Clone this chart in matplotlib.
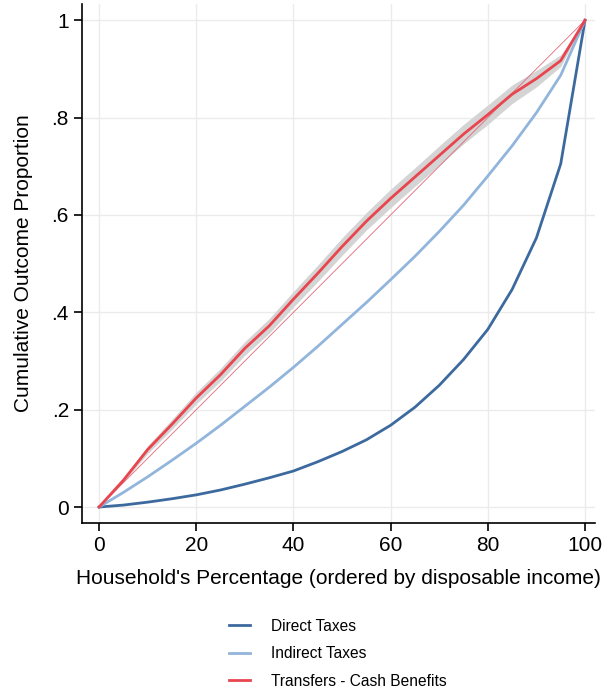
import numpy as np
import matplotlib; matplotlib.use("Agg")
import matplotlib.pyplot as plt

plt.rcParams.update({"font.family": ["Liberation Sans", "DejaVu Sans"], "font.size": 15})

# household percentile (ordered by disposable income)
pct = [0, 5, 10, 15, 20, 25, 30, 35, 40, 45, 50, 55, 60, 65, 70, 75, 80, 85, 90, 95, 100]
direct = [0, 0.004, 0.010, 0.017, 0.025, 0.035, 0.047, 0.060, 0.074, 0.093, 0.114,
          0.138, 0.168, 0.205, 0.250, 0.303, 0.365, 0.447, 0.553, 0.705, 1.0]
indirect = [0, 0.030, 0.062, 0.096, 0.131, 0.168, 0.207, 0.246, 0.287, 0.330, 0.375,
            0.420, 0.467, 0.515, 0.566, 0.620, 0.680, 0.742, 0.810, 0.887, 1.0]
transfers = [0, 0.055, 0.118, 0.170, 0.224, 0.272, 0.326, 0.372, 0.427, 0.480, 0.535,
             0.587, 0.634, 0.678, 0.722, 0.766, 0.806, 0.848, 0.880, 0.917, 1.0]
tr_halfwidth = [0, 0.004, 0.008, 0.010, 0.012, 0.013, 0.014, 0.015, 0.016, 0.017, 0.018,
                0.018, 0.019, 0.019, 0.020, 0.020, 0.020, 0.019, 0.017, 0.012, 0]

tr = np.array(transfers); hw = np.array(tr_halfwidth)

fig = plt.figure(figsize=(6.08, 6.91), dpi=100)
ax = fig.add_axes([0.135, 0.243, 0.844, 0.751])

ax.fill_between(pct, tr - hw, tr + hw, color="#d4d4d4", lw=0, zorder=2)
ax.plot([0, 100], [0, 1], color="#e0697a", lw=0.6, zorder=3)
l1, = ax.plot(pct, direct, color="#3d6a9e", lw=2, label="Direct Taxes", zorder=4)
l2, = ax.plot(pct, indirect, color="#92b5dc", lw=2, label="Indirect Taxes", zorder=4)
l3, = ax.plot(pct, transfers, color="#e8454f", lw=2, label="Transfers - Cash Benefits", zorder=5)

ax.set_xlim(-3.5, 102.1)
ax.set_ylim(-0.033, 1.033)
ax.set_xticks([0, 20, 40, 60, 80, 100])
ax.set_yticks([0, 0.2, 0.4, 0.6, 0.8, 1.0])
ax.set_yticklabels(["0", ".2", ".4", ".6", ".8", "1"])
ax.grid(color="#ebebeb", lw=1)
ax.set_axisbelow(True)
for s in ["top", "right"]:
    ax.spines[s].set_visible(False)
for s in ["left", "bottom"]:
    ax.spines[s].set_linewidth(1.2)
ax.tick_params(direction="out", length=6, width=1.2, labelsize=15)
ax.set_xlabel("Household's Percentage (ordered by disposable income)", fontsize=15, labelpad=10)
ax.set_ylabel("Cumulative Outcome Proportion", fontsize=15, labelpad=13)

fig.legend(handles=[l1, l2, l3], loc="center left", bbox_to_anchor=(0.376, 0.054),
           frameon=False, fontsize=11.2, handlelength=1.4, handletextpad=1.3,
           labelspacing=0.8, borderpad=0, borderaxespad=0)

fig.savefig("out.png", dpi=100)
